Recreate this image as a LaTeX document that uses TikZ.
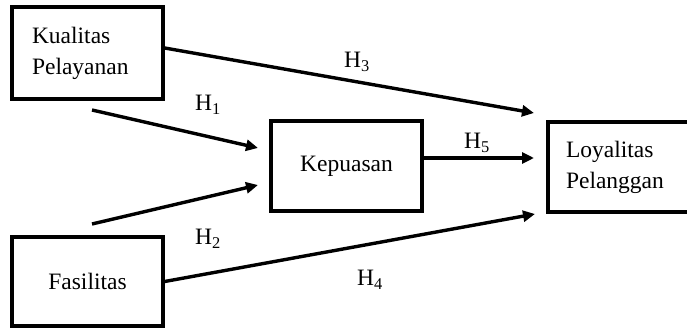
\documentclass[tikz,border=0pt]{standalone}
\usepackage{fontspec}
\setmainfont{Liberation Serif}
\usetikzlibrary{positioning,arrows.meta}

\begin{document}
\begin{tikzpicture}[x=1pt, y=-1pt, line width=3.4pt,
      every node/.style={font=\fontsize{23.5}{31}\selectfont},
      box/.style={draw, rectangle, minimum width=151pt, minimum height=90pt},
      lbox/.style={box, align=left, text width=115pt, inner xsep=18pt},
      hyp/.style={inner sep=0pt},
      arr/.style={-{Triangle[length=12pt,width=11pt]}}
  ]
    \useasboundingbox (0,0) rectangle (687,328);
    \clip (0,0) rectangle (687,328);
    \node[lbox, text width=111pt, inner xsep=20pt, minimum height=92pt] (kualitas) at (87.5,53) {Kualitas\\Pelayanan};
    \node[box, minimum height=89pt] (fasilitas) at (87.5,281.5) {Fasilitas};
    \node[box] (kepuasan) at (346.5,166) {Kepuasan};
    \node[lbox] (loyalitas) at (623.5,167) {Loyalitas\\Pelanggan};
    % free ends of the arrows
    \coordinate (h1s) at (92,110);
    \coordinate (h1e) at (258,148);
    \coordinate (h2s) at (92,224);
    \coordinate (h2e) at (258,185);
    \coordinate (h3e) at (534,113);
    \coordinate (h4e) at (535,214);
    \coordinate (h5e) at (534,158);
    \draw[arr] (h1s) -- (h1e);
    \draw[arr] (h2s) -- (h2e);
    \draw[arr] ([yshift=5pt]kualitas.east) -- (h3e);
    \draw[arr] (fasilitas.east) -- (h4e);
    \draw[arr] ([yshift=8pt]kepuasan.east) -- (h5e);
    \node[hyp] (lh1) at (208,105) {H\textsubscript{1}};
    \node[hyp] (lh2) at (208,239) {H\textsubscript{2}};
    \node[hyp] (lh3) at (357,62) {H\textsubscript{3}};
    \node[hyp] (lh4) at (370,280) {H\textsubscript{4}};
    \node[hyp] (lh5) at (477,143) {H\textsubscript{5}};
\end{tikzpicture}
\end{document}
